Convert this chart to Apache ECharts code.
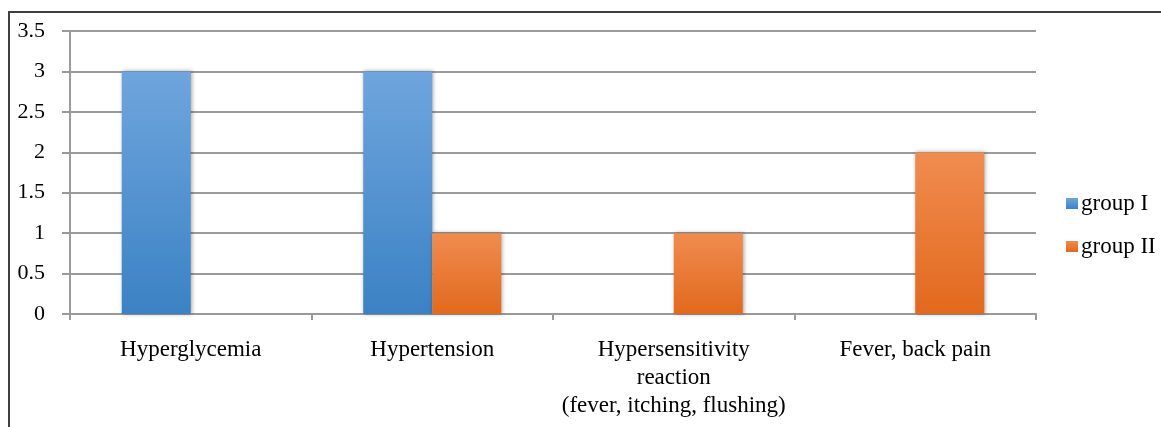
<!DOCTYPE html>
<html>
<head>
<meta charset="utf-8">
<script src="https://cdn.jsdelivr.net/npm/echarts@6/dist/echarts.min.js"></script>
<style>
  html, body { margin: 0; padding: 0; background: #fff; }
  #chart { width: 1161px; height: 427px; }
</style>
</head>
<body>
<div id="chart"></div>
<script>
// Adverse events per group
const categories = [
  'Hyperglycemia',
  'Hypertension',
  'Hypersensitivity\nreaction\n(fever, itching, flushing)',
  'Fever, back pain'
];
const groupI = [3, 3, 0, 0];
const groupII = [0, 1, 1, 2];
const yTicks = { min: 0, max: 3.5, interval: 0.5 };

const serif = '"Liberation Serif", "Times New Roman", serif';

function grad(top, bottom) {
  return new echarts.graphic.LinearGradient(0, 0, 0, 1, [
    { offset: 0, color: top },
    { offset: 1, color: bottom }
  ]);
}

const chart = echarts.init(document.getElementById('chart'), null, { renderer: 'canvas' });
chart.setOption({
  animation: false,
  backgroundColor: '#ffffff',
  graphic: [{
    type: 'rect',
    shape: { x: 9, y: 12, width: 1300, height: 500 },
    style: { fill: 'none', stroke: '#404040', lineWidth: 2 },
    silent: true
  }],
  grid: { left: 70, right: 125, top: 31, bottom: 113, containLabel: false },
  legend: {
    orient: 'vertical',
    left: 1061,
    top: 187,
    itemWidth: 12,
    itemHeight: 11,
    itemGap: 20,
    icon: 'rect',
    textStyle: { fontFamily: serif, fontSize: 23, color: '#000', padding: [0, 0, 0, -2] },
    data: ['group I', 'group II']
  },
  xAxis: {
    type: 'category',
    data: categories,
    axisLine: { lineStyle: { color: '#9a9a9a', width: 2 } },
    axisTick: { show: true, length: 6, alignWithLabel: false, lineStyle: { color: '#9a9a9a', width: 2 } },
    axisLabel: {
      fontFamily: serif, fontSize: 23, color: '#000',
      margin: 22, lineHeight: 28, interval: 0
    }
  },
  yAxis: {
    type: 'value',
    min: yTicks.min,
    max: yTicks.max,
    interval: yTicks.interval,
    axisLine: { show: true, lineStyle: { color: '#9a9a9a', width: 2 } },
    axisTick: { show: true, length: 8, lineStyle: { color: '#9a9a9a', width: 2 } },
    splitLine: { lineStyle: { color: '#9a9a9a', width: 2 } },
    axisLabel: { fontFamily: serif, fontSize: 22, color: '#000', margin: 25 }
  },
  series: [
    {
      name: 'group I',
      type: 'bar',
      data: groupI,
      barWidth: 69,
      barGap: '0%',
      itemStyle: {
        color: grad('#6fa5dd', '#3b82c4'),
        shadowBlur: 4, shadowColor: 'rgba(0,0,0,0.35)', shadowOffsetX: 1, shadowOffsetY: 0
      }
    },
    {
      name: 'group II',
      type: 'bar',
      data: groupII,
      barWidth: 69,
      barGap: '0%',
      itemStyle: {
        color: grad('#f08c50', '#e2691d'),
        shadowBlur: 4, shadowColor: 'rgba(0,0,0,0.35)', shadowOffsetX: 1, shadowOffsetY: 0
      }
    }
  ]
});
</script>
</body>
</html>
